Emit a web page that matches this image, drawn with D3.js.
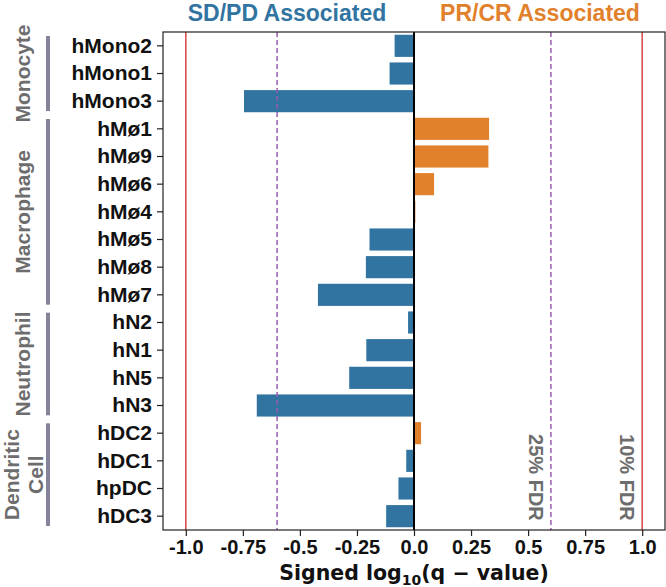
<!DOCTYPE html>
<html>
<head>
<meta charset="utf-8">
<script src="https://cdn.jsdelivr.net/npm/d3@7"></script>
<style>
  body { margin: 0; background: #fff; }
  text { font-family: "Liberation Sans", Arial, sans-serif; font-weight: bold; }
</style>
</head>
<body>
<div id="chart-area"></div>
<script>

// Data
var cellTypes = ["hMono2", "hMono1", "hMono3", "hMø1", "hMø9", "hMø6", "hMø4", "hMø5", "hMø8", "hMø7",
                 "hN2", "hN1", "hN5", "hN3", "hDC2", "hDC1", "hpDC", "hDC3"];
var signedLogQ = [-0.085, -0.107, -0.745, 0.329, 0.326, 0.088, 0.006, -0.195, -0.211, -0.421,
                  -0.026, -0.209, -0.284, -0.689, 0.031, -0.034, -0.068, -0.122];

var groupNames = [["Monocyte"], ["Macrophage"], ["Neutrophil"], ["Dendritic", "Cell"]];
var groupStart = [0, 3, 10, 14];
var groupEnd = [2, 9, 13, 17];

var xTicks = [-1.0, -0.75, -0.5, -0.25, 0.0, 0.25, 0.5, 0.75, 1.0];
var xTickLabels = ["-1.0", "-0.75", "-0.5", "-0.25", "0.0", "0.25", "0.5", "0.75", "1.0"];

var fdrLines = [
  {value: -1.0, kind: "solid"}, {value: 1.0, kind: "solid"},
  {value: -0.6, kind: "dash"}, {value: 0.6, kind: "dash"}
];
var fdrLabels = [{value: 0.6, text: "25% FDR"}, {value: 1.0, text: "10% FDR"}];

var blue = "#3274a1", orange = "#e1812c";

// SVG drawing area
var W = 666, H = 587;
var margin = {top: 32, right: 1, bottom: 57, left: 163};
var width = W - margin.left - margin.right,
    height = H - margin.top - margin.bottom;

var root = d3.select("#chart-area").append("svg")
    .attr("width", W)
    .attr("height", H);

var svg = root.append("g")
    .attr("transform", "translate(" + margin.left + "," + margin.top + ")");

// Scales
var x = d3.scaleLinear()
    .domain([-1.1, 1.1])
    .range([0, width]);

var y = d3.scaleBand()
    .domain(cellTypes)
    .range([0, height])
    .paddingInner(0.2)
    .paddingOuter(0.1);

var step = y.step();

// Bars
svg.selectAll("rect.bar")
    .data(cellTypes)
  .enter().append("rect")
    .attr("class", "bar")
    .attr("x", function(d, i) { return x(Math.min(0, signedLogQ[i])); })
    .attr("y", function(d) { return y(d); })
    .attr("width", function(d, i) { return Math.abs(x(signedLogQ[i]) - x(0)); })
    .attr("height", y.bandwidth())
    .attr("fill", function(d, i) { return signedLogQ[i] < 0 ? blue : orange; });

// FDR threshold lines
svg.selectAll("line.fdr")
    .data(fdrLines)
  .enter().append("line")
    .attr("class", "fdr")
    .attr("x1", function(d) { return x(d.value); })
    .attr("x2", function(d) { return x(d.value); })
    .attr("y1", 0)
    .attr("y2", height)
    .attr("stroke", function(d) { return d.kind == "solid" ? "#d64545" : "#9a5bb0"; })
    .attr("stroke-width", 1.5)
    .attr("stroke-dasharray", function(d) { return d.kind == "solid" ? null : "5,3"; });

// zero line
svg.append("line")
    .attr("x1", x(0)).attr("x2", x(0))
    .attr("y1", 0).attr("y2", height)
    .attr("stroke", "#000")
    .attr("stroke-width", 2);

// FDR labels
svg.selectAll("text.fdrlab")
    .data(fdrLabels)
  .enter().append("text")
    .attr("class", "fdrlab")
    .attr("transform", function(d) { return "translate(" + (x(d.value) - 22) + "," + (y("hDC2") + 12) + ") rotate(90)"; })
    .attr("fill", "#6d6d6d")
    .style("font-size", "20px")
    .text(function(d) { return d.text; });

// Frame
svg.append("rect")
    .attr("width", width)
    .attr("height", height)
    .attr("fill", "none")
    .attr("stroke", "#222")
    .attr("stroke-width", 1.2);

// Axes
var xAxis = d3.axisBottom(x)
    .tickValues(xTicks)
    .tickFormat(function(d, i) { return xTickLabels[i]; })
    .tickSize(6)
    .tickPadding(4);

var yAxis = d3.axisLeft(y)
    .tickSize(6)
    .tickPadding(5);

var gx = svg.append("g")
    .attr("class", "axis x-axis")
    .attr("transform", "translate(0," + height + ")")
    .call(xAxis);

var gy = svg.append("g")
    .attr("class", "axis y-axis")
    .call(yAxis);

[gx, gy].forEach(function(g) {
  g.select(".domain").remove();
  g.selectAll(".tick line").attr("stroke", "#222").attr("stroke-width", 1.2);
  g.selectAll(".tick text")
      .attr("fill", "#111")
      .style("font-family", "'Liberation Sans', Arial, sans-serif")
      .style("font-weight", "bold")
      .style("font-size", "20px");
});
gy.selectAll(".tick text").style("font-size", "21px");

// Axis label
var xl = root.append("text")
    .attr("x", margin.left + width / 2)
    .attr("y", 580)
    .attr("text-anchor", "middle")
    .attr("fill", "#111")
    .style("font-family", "'DejaVu Sans', sans-serif")
    .style("font-size", "20.5px");
xl.append("tspan").text("Signed  log");
xl.append("tspan").attr("dy", 5).style("font-size", "14px").text("10");
xl.append("tspan").attr("dy", -5).text("(q \u2212 value)");

// Titles
root.append("text")
    .attr("x", 287).attr("y", 20.5)
    .attr("text-anchor", "middle")
    .attr("fill", blue)
    .style("font-size", "23px")
    .text("SD/PD Associated");

root.append("text")
    .attr("x", 540).attr("y", 20.5)
    .attr("text-anchor", "middle")
    .attr("fill", orange)
    .style("font-size", "23px")
    .text("PR/CR Associated");

// Cell type groups
var groups = root.append("g")
    .attr("transform", "translate(0," + margin.top + ")");

groupNames.forEach(function(names, i) {
  var top = y(cellTypes[groupStart[i]]) - step * 0.1 + 4;
  var bottom = y(cellTypes[groupEnd[i]]) + y.bandwidth() + step * 0.1 - 4;
  groups.append("line")
      .attr("x1", 48).attr("x2", 48)
      .attr("y1", top).attr("y2", bottom)
      .attr("stroke", "#83839a")
      .attr("stroke-width", 4);

  var mid = (top + bottom) / 2;
  names.forEach(function(n, j) {
    var bx = names.length == 1 ? 30 : 19 + j * 24;
    groups.append("text")
        .attr("transform", "translate(" + bx + "," + mid + ") rotate(-90)")
        .attr("text-anchor", "middle")
        .attr("fill", "#6d6d6d")
        .style("font-size", "21px")
        .text(n);
  });
});

</script>
</body>
</html>
